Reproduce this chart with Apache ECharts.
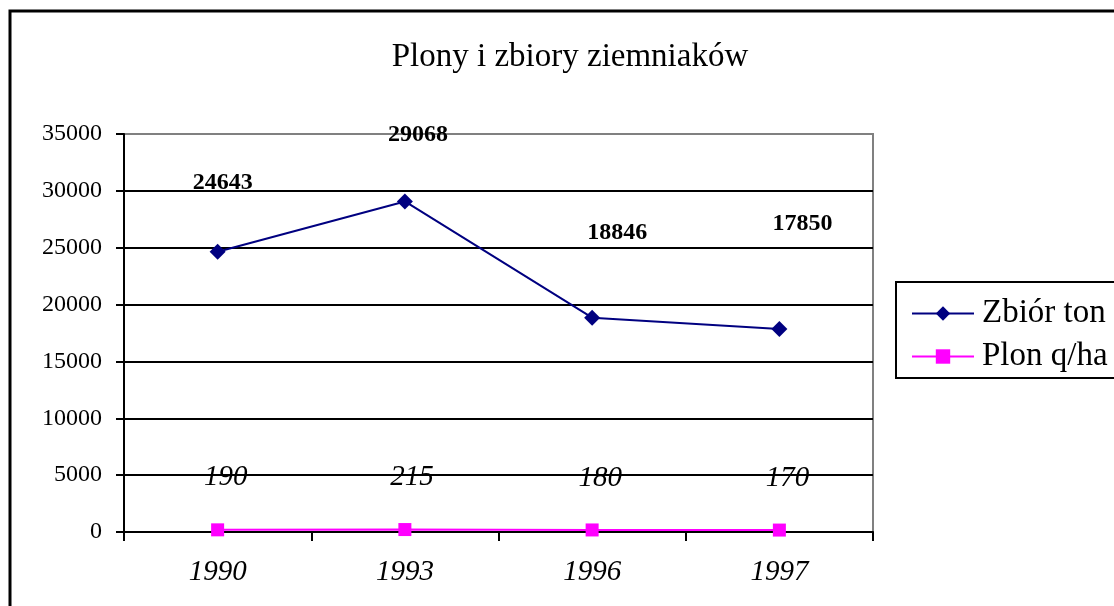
<!DOCTYPE html>
<html>
<head>
<meta charset="utf-8">
<script src="https://cdn.jsdelivr.net/npm/echarts@6/dist/echarts.min.js"></script>
<style>
  html, body { margin: 0; padding: 0; background: #fff; }
  #chart { width: 1114px; height: 606px; }
</style>
</head>
<body>
<div id="chart"></div>
<script>
const years = ['1990', '1993', '1996', '1997'];
const zbior = [24643, 29068, 18846, 17850];
const plon = [190, 215, 180, 170];
const yTicks = [0, 5000, 10000, 15000, 20000, 25000, 30000, 35000];

// label offsets (px) as the original chart places them
const zbiorLabelOffsets = [[5, -44], [13, -42], [25, -60], [23, -80]];
const plonLabelOffsets = [[8, -26], [7, -26], [8, -26], [8, -26]];

const serif = '"Liberation Serif", "DejaVu Serif", serif';

const chart = echarts.init(document.getElementById('chart'));

const options = {
    backgroundColor: '#fff',
    animation: false,
    title: {
        text: 'Plony i zbiory ziemniaków',
        left: 565,
        top: 36,
        textAlign: 'center',
        textStyle: {
            fontFamily: serif,
            fontSize: 33,
            fontWeight: 'normal',
            color: '#000'
        }
    },
    graphic: [{
        type: 'rect',
        shape: {x: 10, y: 11, width: 1300, height: 800},
        style: {fill: 'none', stroke: '#000', lineWidth: 3},
        silent: true
    }],
    legend: {
        orient: 'vertical',
        left: 896,
        top: 282,
        padding: [15, 30, 5, 15],
        borderColor: '#000',
        borderWidth: 2,
        itemWidth: 62,
        itemHeight: 18,
        itemGap: 10,
        textStyle: {
            fontFamily: serif,
            fontSize: 33,
            lineHeight: 32,
            padding: [0, 0, 0, 3],
            color: '#000'
        }
    },
    grid: {
        left: 124,
        right: 241,
        top: 134,
        bottom: 74,
        show: true,
        borderColor: '#808080',
        borderWidth: 2
    },
    xAxis: {
        type: 'category',
        data: years,
        boundaryGap: true,
        axisLine: {lineStyle: {color: '#000', width: 2}},
        axisTick: {show: true, alignWithLabel: false, length: 9, lineStyle: {color: '#000', width: 2}},
        axisLabel: {
            margin: 26,
            fontFamily: serif,
            fontStyle: 'italic',
            fontSize: 29,
            color: '#000'
        }
    },
    yAxis: {
        type: 'value',
        min: yTicks[0],
        max: yTicks[yTicks.length - 1],
        interval: yTicks[1] - yTicks[0],
        axisLine: {show: true, lineStyle: {color: '#000', width: 2}},
        axisTick: {show: true, length: 8, lineStyle: {color: '#000', width: 2}},
        axisLabel: {
            margin: 22,
            fontFamily: serif,
            fontSize: 24,
            color: '#000',
            formatter: v => String(v)
        },
        splitLine: {
            lineStyle: {
                color: yTicks.map((t, i) => i === yTicks.length - 1 ? '#808080' : '#000'),
                width: 2
            }
        }
    },
    series: [
        {
            name: 'Zbiór ton',
            type: 'line',
            data: zbior.map((v, i) => ({
                value: v,
                label: {offset: zbiorLabelOffsets[i]}
            })),
            symbol: 'diamond',
            symbolSize: 16,
            itemStyle: {color: '#000080'},
            lineStyle: {color: '#000080', width: 2},
            label: {
                show: true,
                position: 'top',
                distance: 5,
                fontFamily: serif,
                fontSize: 24,
                fontWeight: 'bold',
                color: '#000'
            }
        },
        {
            name: 'Plon q/ha',
            type: 'line',
            data: plon.map((v, i) => ({
                value: v,
                label: {offset: plonLabelOffsets[i]}
            })),
            symbol: 'rect',
            symbolSize: 13,
            itemStyle: {color: '#ff00ff'},
            lineStyle: {color: '#ff00ff', width: 2},
            label: {
                show: true,
                position: 'top',
                distance: 5,
                fontFamily: serif,
                fontSize: 29,
                fontStyle: 'italic',
                color: '#000'
            }
        }
    ]
};

chart.setOption(options);
</script>
</body>
</html>
